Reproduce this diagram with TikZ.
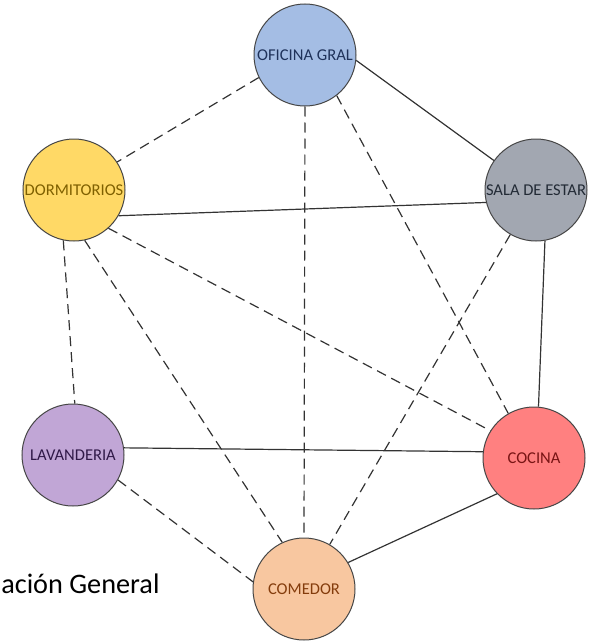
\documentclass[tikz,border=0pt]{standalone}
\usepackage{fontspec}
\setmainfont{Carlito}
\usepackage{xcolor}
\usepackage{tikz}
\usetikzlibrary{arrows.meta,calc}
\definecolor{ofiblue}{RGB}{164,189,228}
\definecolor{ofitext}{RGB}{31,50,90}
\definecolor{dormyellow}{RGB}{255,217,102}
\definecolor{dormtext}{RGB}{127,96,0}
\definecolor{salagray}{RGB}{162,167,177}
\definecolor{salatext}{RGB}{34,42,53}
\definecolor{lavpurple}{RGB}{193,166,214}
\definecolor{lavtext}{RGB}{48,25,72}
\definecolor{cocred}{RGB}{255,128,128}
\definecolor{coctext}{RGB}{120,20,20}
\definecolor{comorange}{RGB}{248,199,160}
\definecolor{comtext}{RGB}{132,60,12}
\definecolor{figline}{RGB}{51,51,51}
\definecolor{figborder}{RGB}{70,70,70}
\tikzset{
  room/.style={circle, draw=figborder, line width=0.75pt, minimum size=76.5pt, inner sep=0pt, font=\fontsize{12.4}{14}\selectfont},
  solidlink/.style={draw=figline, line width=0.9pt},
  dashlink/.style={draw=figline, line width=0.9pt, dash pattern=on 7.5pt off 4.5pt},
  figtitle/.style={font=\fontsize{21.2}{25}\selectfont, text=black}
}

\begin{document}
\begin{tikzpicture}[x=0.75pt,y=-0.75pt]
  \useasboundingbox (0,0) rectangle (590,642);

  \node[room, fill=ofiblue, text=ofitext] (oficina) at (305,55) {OFICINA GRAL};
  \node[room, fill=dormyellow, text=dormtext] (dormitorios) at (74,190) {DORMITORIOS};
  \node[room, fill=salagray, text=salatext] (sala) at (536,190) {SALA DE ESTAR};
  \node[room, fill=lavpurple, text=lavtext] (lavanderia) at (73,455) {LAVANDERIA};
  \node[room, fill=cocred, text=coctext] (cocina) at (534,458) {COCINA};
  \node[room, fill=comorange, text=comtext] (comedor) at (304,589) {COMEDOR};

  \node[figtitle, anchor=base west, inner sep=0pt] (titulo) at (1,593) {ación General};

  % relaciones directas
  \draw[solidlink] (oficina.-6) -- (sala.145);
  \draw[solidlink] (dormitorios.-30) -- (sala.-166);
  \draw[solidlink] (sala.-80) -- (cocina.85);
  \draw[solidlink] (lavanderia.8) -- (cocina.173);
  \draw[solidlink] (cocina.-136) -- (comedor.31);

  % relaciones indirectas
  \draw[dashlink] (oficina.-154) -- (dormitorios.33);
  \draw[dashlink] (oficina.south) -- (comedor.north);
  \draw[dashlink] (oficina.-52) -- (cocina.120);
  \draw[dashlink] (dormitorios.-102) -- (lavanderia.88);
  \draw[dashlink] (dormitorios.-78) -- (comedor.115);
  \draw[dashlink] (dormitorios.-48) -- (cocina.148);
  \draw[dashlink] (sala.-120) -- (comedor.60);
  \draw[dashlink] (lavanderia.-29) -- (comedor.172);
\end{tikzpicture}
\end{document}
